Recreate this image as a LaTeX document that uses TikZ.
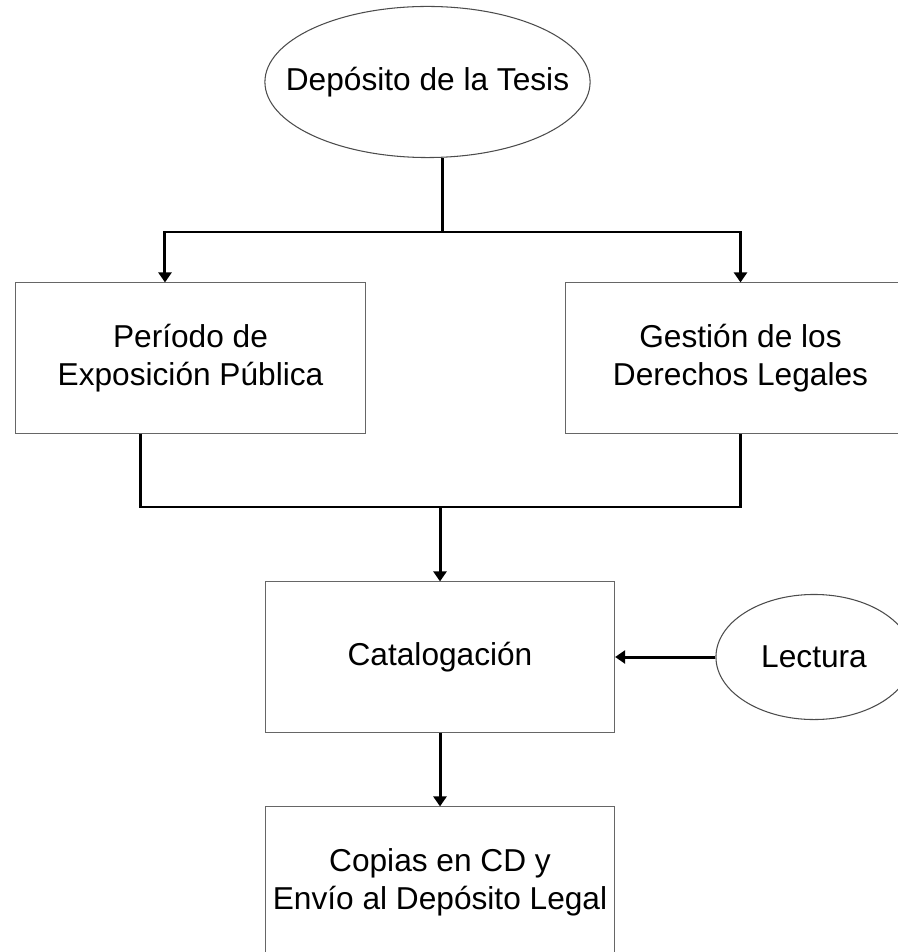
\documentclass[tikz,border=0pt]{standalone}
\usepackage{fontspec}
\setmainfont{Liberation Sans}
\usetikzlibrary{shapes.geometric,arrows.meta}

\tikzset{
  paso/.style={draw=black!60, line width=0.3pt, align=center,
    minimum width=3.49cm, minimum height=1.50cm, inner sep=0pt,
    font=\fontsize{9}{10.8}\selectfont},
  hito/.style={ellipse, draw=black!70, line width=0.3pt, align=center, inner sep=0pt,
    font=\fontsize{9}{10.8}\selectfont},
  flecha/.style={line width=0.85pt, -{Triangle[length=0.1cm,width=0.13cm]}},
  linea/.style={line width=0.85pt}
}

\begin{document}
\begin{tikzpicture}[x=0.01cm, y=-0.01cm]
    \useasboundingbox (0,0) rectangle (898,952);
    \clip (0,0) rectangle (898,952);
    \node [hito, inner xsep=-0.276cm, minimum width=3.25cm, minimum height=1.51cm] (deposito) at (427.5, 82) {Depósito de la Tesis};
    \node [paso] (exposicion) at (190.5, 358) {Período de\\Exposición Pública};
    \node [paso] (derechos) at (740.5, 358) {Gestión de los\\Derechos Legales};
    \node [paso] (catalogo) at (440, 657) {Catalogación};
    \node [paso] (copias) at (440, 882) {Copias en CD y\\Envío al Depósito Legal};
    \node [hito, minimum width=1.96cm, minimum height=1.25cm] (lectura) at (814, 657) {Lectura};
    \coordinate (reparto) at (442, 232);
    \coordinate (union) at (441, 507);
    \draw [linea] (reparto |- deposito.south) -- (reparto);
    \draw [flecha] (reparto) -| ([xshift=-0.255cm]exposicion.north);
    \draw [flecha] (reparto) -| (derechos.north);
    \draw [linea] ([xshift=-0.495cm]exposicion.south) |- (union) -| (derechos.south);
    \draw [flecha] (union) -- (union -| catalogo.north) -- (catalogo.north);
    \draw [flecha] (lectura.west) -- (catalogo.east);
    \draw [flecha] (catalogo.south) -- (copias.north);
  \end{tikzpicture}
\end{document}
